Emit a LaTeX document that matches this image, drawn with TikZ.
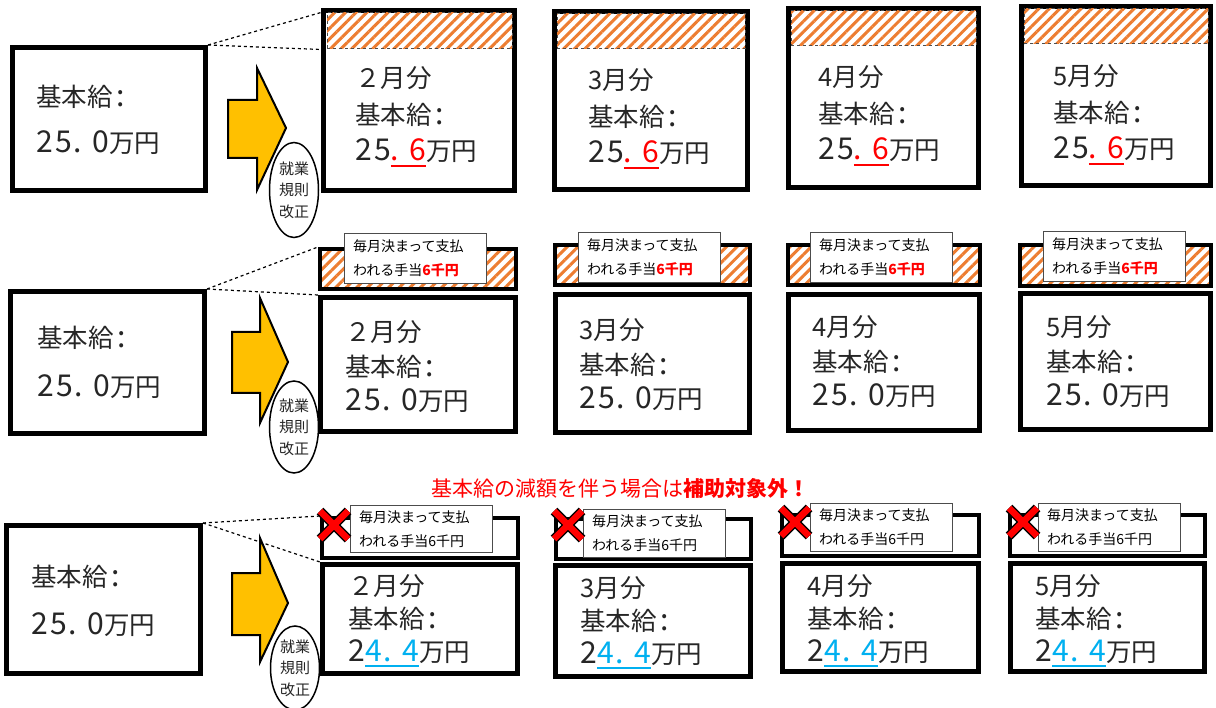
\documentclass[tikz,border=0pt]{standalone}
\usepackage{fontspec}
\setmainfont{Noto Sans CJK JP}
\newfontfamily\digs[Scale=1.18,LetterSpace=7]{Noto Sans CJK JP}
\usetikzlibrary{patterns.meta,shapes.geometric}

\definecolor{txtgray}{HTML}{262626}
\definecolor{hatchorange}{HTML}{ED7D31}
\definecolor{arrowyellow}{HTML}{FFC000}
\definecolor{cutblue}{HTML}{00B0F0}

% coloured part of an amount, with a thick underline
\newcommand{\ulmark}[2]{{\color{#1}\setbox0\hbox{#2}\rlap{\rule[-6pt]{\wd0}{2.2pt}}\box0}}
% decimal point of an amount, and the colon after a label
\newcommand{\decpt}{{\digs .}\hspace{0.4em}}
\newcommand{\colonmark}{\hspace{0.15em}{\digs :}}

\tikzset{every picture/.style={line width=0.75pt}}
\tikzset{
  basebox/.style={draw, line width=5pt, fill=white, inner sep=0pt},
  topbox/.style={draw, line width=4pt, fill=white, inner sep=0pt},
  hatchbox/.style={draw, line width=4pt, inner sep=0pt, preaction={fill=white},
    pattern={Lines[angle=45,distance=7.5pt,line width=3pt]}, pattern color=hatchorange},
  hatcharea/.style={draw=black!70, dashed, line width=1pt, inner sep=0pt,
    preaction={solid, pattern={Lines[angle=45,distance=7.5pt,line width=3pt]}, pattern color=hatchorange}},
  tagbox/.style={draw=black!70, line width=1pt, fill=white, anchor=north west, align=left,
    text width=125pt, inner xsep=8.5pt, inner ysep=0pt, font=\fontsize{14}{24}\selectfont},
  bigtext/.style={anchor=west, align=left, inner sep=0pt, text=txtgray},
  ruleoval/.style={draw, ellipse, line width=1.5pt, fill=white, minimum width=49pt, inner sep=0pt,
    align=center, text=txtgray, font=\fontsize{15}{21.5}\selectfont},
  blockarrow/.style={draw, line width=2pt, fill=arrowyellow, line join=miter},
  cutline/.style={dashed, line width=1.2pt},
  crossout/.style={preaction={draw=black, line width=9.5pt}, draw=red, line width=6.5pt},
}

\begin{document}
\begin{tikzpicture}[x=1pt,y=1pt,yscale=-1,xscale=1]
\path [use as bounding box, fill=white] (0,0) rectangle (1216,708);

%%% Row 1 : raise of the base pay
%Shape: Rectangle
\node (base1) [basebox, minimum width=193, minimum height=143] at (109,119) {};
% Text Node
\draw (36,120) node (base1txt) [bigtext, font=\fontsize{25.5}{46}\selectfont] {基本給\colonmark\\{\digs 25}\decpt{\digs 0}万円};
%Right Arrow
\draw [blockarrow] (228,100) -- (257,100) -- (257,68) -- (286,128) -- (257,190) -- (257,158) -- (228,158) -- cycle ;
%Ellipse
\node (rule1) [ruleoval, minimum height=95] at (294,190) {就業\\規則\\改正};

%Shape: Rectangle
\node (m12) [basebox, minimum width=191, minimum height=180] at (419,100.5) {};
\node (hatch12) [hatcharea, minimum width=185, minimum height=36] at (419.5,31) {};
\node (m13) [basebox, minimum width=193, minimum height=178] at (651,100.5) {};
\node (hatch13) [hatcharea, minimum width=188, minimum height=35] at (651,31.5) {};
\node (m14) [basebox, minimum width=190, minimum height=179] at (883.5,98) {};
\node (hatch14) [hatcharea, minimum width=185, minimum height=35] at (883.5,28.5) {};
\node (m15) [basebox, minimum width=189, minimum height=179] at (1116,96) {};
\node (hatch15) [hatcharea, minimum width=184, minimum height=35] at (1116,26.5) {};

% Text Node
\draw (355,117) node (m12txt) [bigtext, font=\fontsize{25.5}{36.5}\selectfont] {２月分\\基本給\colonmark\\{\digs 25}\ulmark{red}{\decpt{\digs 6}}万円};
% Text Node
\draw (588,119) node (m13txt) [bigtext, font=\fontsize{25.5}{36.5}\selectfont] {3月分\\基本給\colonmark\\{\digs 25}\ulmark{red}{\decpt{\digs 6}}万円};
% Text Node
\draw (818,116) node (m14txt) [bigtext, font=\fontsize{25.5}{36.5}\selectfont] {4月分\\基本給\colonmark\\{\digs 25}\ulmark{red}{\decpt{\digs 6}}万円};
% Text Node
\draw (1053,115) node (m15txt) [bigtext, font=\fontsize{25.5}{36.5}\selectfont] {5月分\\基本給\colonmark\\{\digs 25}\ulmark{red}{\decpt{\digs 6}}万円};

\draw [cutline] (base1.north east) -- (m12.north west |- hatch12.north west);
\draw [cutline] (base1.north east) -- (m12.north west |- hatch12.south west);

%%% Row 2 : fixed monthly allowance on top
%Shape: Rectangle
\node (base2) [basebox, minimum width=194, minimum height=142] at (107.5,362.5) {};
% Text Node
\draw (37,362) node (base2txt) [bigtext, font=\fontsize{25.5}{49}\selectfont] {基本給\colonmark\\{\digs 25}\decpt{\digs 0}万円};
%Right Arrow
\draw [blockarrow] (232,332) -- (260,332) -- (260,298) -- (288,362) -- (260,423) -- (260,393) -- (232,393) -- cycle ;
%Ellipse
\node (rule2) [ruleoval, minimum height=92] at (294,427) {就業\\規則\\改正};

%Shape: Rectangle
\node (top22) [hatchbox, minimum width=196, minimum height=40] at (418,269) {};
\node (m22) [basebox, minimum width=195, minimum height=134] at (418,364.5) {};
\node (top23) [hatchbox, minimum width=195, minimum height=40] at (652.5,265) {};
\node (m23) [basebox, minimum width=194, minimum height=138] at (652.5,363.5) {};
\node (top24) [hatchbox, minimum width=192, minimum height=40] at (884,265) {};
\node (m24) [basebox, minimum width=191, minimum height=136] at (884,362.5) {};
\node (top25) [hatchbox, minimum width=191, minimum height=41] at (1115.5,265.5) {};
\node (m25) [basebox, minimum width=190, minimum height=136] at (1115.5,361.5) {};

% Text Node
\node (tag22) [tagbox, minimum height=50] at (344,233) {毎月決まって支払\\われる手当\textcolor{red}{\bfseries 6千円}};
\node (tag23) [tagbox, minimum height=50] at (578,232) {毎月決まって支払\\われる手当\textcolor{red}{\bfseries 6千円}};
\node (tag24) [tagbox, minimum height=50] at (810,232) {毎月決まって支払\\われる手当\textcolor{red}{\bfseries 6千円}};
\node (tag25) [tagbox, minimum height=50] at (1043,231) {毎月決まって支払\\われる手当\textcolor{red}{\bfseries 6千円}};

% Text Node
\draw (345,367) node (m22txt) [bigtext, font=\fontsize{25.5}{34.5}\selectfont] {２月分\\基本給\colonmark\\{\digs 25}\decpt{\digs 0}万円};
% Text Node
\draw (579,365) node (m23txt) [bigtext, font=\fontsize{25.5}{34.5}\selectfont] {3月分\\基本給\colonmark\\{\digs 25}\decpt{\digs 0}万円};
% Text Node
\draw (812,362) node (m24txt) [bigtext, font=\fontsize{25.5}{34.5}\selectfont] {4月分\\基本給\colonmark\\{\digs 25}\decpt{\digs 0}万円};
% Text Node
\draw (1046,362) node (m25txt) [bigtext, font=\fontsize{25.5}{34.5}\selectfont] {5月分\\基本給\colonmark\\{\digs 25}\decpt{\digs 0}万円};

\draw [cutline] (base2.north east) -- (top22.north west);
\draw [cutline] (base2.north east) -- (m22.north west);

%%% Row 3 : base pay cut, allowance dropped
% Text Node
\draw (620,489) node (warn) [text=red, font=\fontsize{21}{21}\selectfont] {基本給の減額を伴う場合は\textbf{補助対象外！}};

%Shape: Rectangle
\node (base3) [basebox, minimum width=194, minimum height=148] at (103.5,599.5) {};
% Text Node
\draw (31,601) node (base3txt) [bigtext, font=\fontsize{25.5}{48}\selectfont] {基本給\colonmark\\{\digs 25}\decpt{\digs 0}万円};
%Right Arrow
\draw [blockarrow] (232,573) -- (260,573) -- (260,538) -- (288,603) -- (260,662) -- (260,635) -- (232,635) -- cycle ;
%Ellipse
\node (rule3) [ruleoval, minimum height=84] at (295,668) {就業\\規則\\改正};

%Shape: Rectangle
\node (top32) [topbox, minimum width=196, minimum height=40] at (420,538) {};
\node (m32) [basebox, minimum width=195, minimum height=109] at (420,619) {};
\node (top33) [topbox, minimum width=195, minimum height=40] at (653.5,539) {};
\node (m33) [basebox, minimum width=195, minimum height=111] at (653,621) {};
\node (top34) [topbox, minimum width=197, minimum height=41] at (880.5,535.5) {};
\node (m34) [basebox, minimum width=196, minimum height=108] at (880.5,617.5) {};
\node (top35) [topbox, minimum width=195, minimum height=41] at (1107.5,535.5) {};
\node (m35) [basebox, minimum width=194, minimum height=108] at (1107.5,617.5) {};

% Text Node
\node (tag32) [tagbox, minimum height=47] at (350,505) {毎月決まって支払\\われる手当6千円};
\node (tag33) [tagbox, minimum height=48] at (583,509) {毎月決まって支払\\われる手当6千円};
\node (tag34) [tagbox, minimum height=48] at (810,503) {毎月決まって支払\\われる手当6千円};
\node (tag35) [tagbox, minimum height=48] at (1038,503) {毎月決まって支払\\われる手当6千円};

%Cross marks
\draw [crossout] (320,511) -- (348,539) (320,539) -- (348,511);
\draw [crossout] (554,511) -- (582,539) (554,539) -- (582,511);
\draw [crossout] (781,508) -- (809,536) (781,536) -- (809,508);
\draw [crossout] (1009,508) -- (1037,536) (1009,536) -- (1037,508);

% Text Node
\draw (348,621) node (m32txt) [bigtext, font=\fontsize{25.5}{33}\selectfont] {２月分\\基本給\colonmark\\{\digs 2}\ulmark{cutblue}{{\digs 4}\decpt{\digs 4}}万円};
% Text Node
\draw (580,623) node (m33txt) [bigtext, font=\fontsize{25.5}{33}\selectfont] {3月分\\基本給\colonmark\\{\digs 2}\ulmark{cutblue}{{\digs 4}\decpt{\digs 4}}万円};
% Text Node
\draw (807,621) node (m34txt) [bigtext, font=\fontsize{25.5}{33}\selectfont] {4月分\\基本給\colonmark\\{\digs 2}\ulmark{cutblue}{{\digs 4}\decpt{\digs 4}}万円};
% Text Node
\draw (1035,621) node (m35txt) [bigtext, font=\fontsize{25.5}{33}\selectfont] {5月分\\基本給\colonmark\\{\digs 2}\ulmark{cutblue}{{\digs 4}\decpt{\digs 4}}万円};

\draw [cutline] (base3.north east) -- (top32.north west);
\draw [cutline] (base3.north east) -- (m32.north west);

\end{tikzpicture}
\end{document}
